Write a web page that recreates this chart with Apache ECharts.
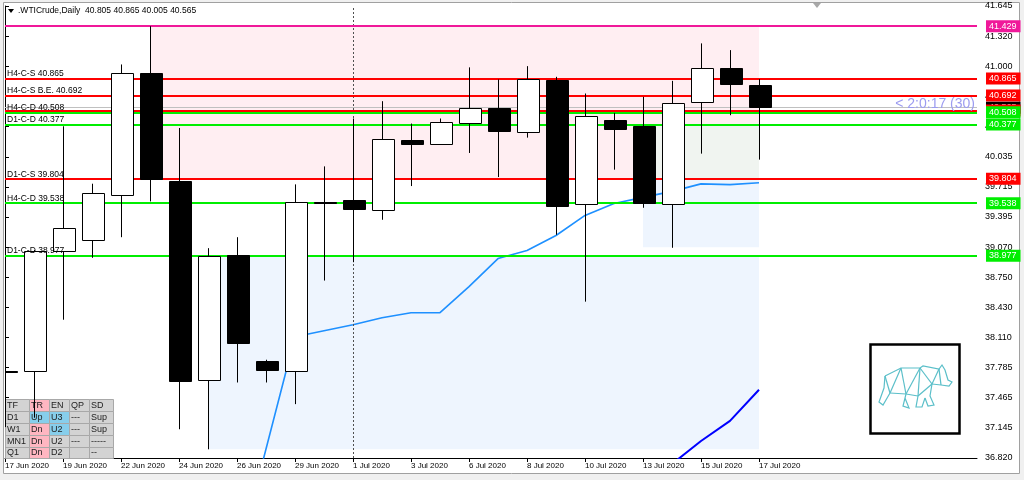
<!DOCTYPE html>
<html><head><meta charset="utf-8">
<script src="https://cdn.jsdelivr.net/npm/echarts@6/dist/echarts.min.js"></script>
<style>html,body{margin:0;padding:0;background:#f0f0f0}#c{width:1024px;height:480px}</style>
</head><body><div id="c"></div>
<script>
// ---------- DATA ----------
const dates = ['17 Jun 2020','18 Jun 2020','19 Jun 2020','21 Jun 2020','22 Jun 2020','23 Jun 2020','24 Jun 2020','25 Jun 2020','26 Jun 2020','28 Jun 2020','29 Jun 2020','30 Jun 2020','1 Jul 2020','2 Jul 2020','3 Jul 2020','5 Jul 2020','6 Jul 2020','7 Jul 2020','8 Jul 2020','9 Jul 2020','10 Jul 2020','12 Jul 2020','13 Jul 2020','14 Jul 2020','15 Jul 2020','16 Jul 2020','17 Jul 2020'];
const opens  = [37.750,37.744,39.035,39.142,39.631,40.925,39.773,37.655,38.989,37.858,37.744,39.553,39.570,39.463,40.211,40.176,40.397,40.561,40.297,40.853,39.527,40.425,40.369,39.534,40.621,40.985,40.805];
const highs  = [38.760,39.040,40.361,39.748,41.021,41.429,40.343,39.060,39.177,37.869,39.741,39.933,40.444,40.629,40.390,40.444,40.990,40.861,41.003,40.889,40.711,40.504,40.675,40.846,41.246,41.174,40.865];
const lows   = [37.150,37.250,38.296,38.957,39.177,39.559,37.127,36.913,37.626,37.626,37.395,38.714,38.910,39.363,39.723,40.170,40.076,39.819,40.240,39.203,38.489,39.898,39.491,39.064,40.069,40.479,40.005];
const closes = [37.740,39.035,39.270,39.648,40.931,39.797,37.644,38.978,38.043,37.762,39.551,39.548,39.473,40.222,40.172,40.407,40.551,40.308,40.861,39.509,40.471,40.329,39.541,40.611,40.978,40.811,40.565];
const maFast = [null,null,null,null,null,null,null,null,35.718,36.916,38.115,38.179,38.243,38.318,38.371,38.371,38.650,38.949,39.035,39.195,39.409,39.537,39.602,39.666,39.746,39.738,39.759];
const maSlow = [null,null,null,null,null,null,null,null,null,null,null,null,null,null,null,null,null,null,null,null,null,null,36.450,36.756,37.002,37.216,37.548];
const xLabelIdx = [0,2,4,6,8,10,12,14,16,18,20,22,24,26];
const yTicks = [41.645,41.320,41.000,40.680,40.360,40.035,39.715,39.395,39.070,38.750,38.430,38.110,37.785,37.465,37.145,36.820];
const levelValues = [41.429,40.865,40.692,40.532,40.508,40.377,39.804,39.538,38.977];
const levelNames  = ['','H4-C-S','H4-C-S B.E.','','H4-C-D','D1-C-D','D1-C-S','H4-C-D','D1-C-D'];
const pinkZone = [5,41.429,26,39.804];
const blueZoneLow = [7,38.977,26,36.913];
const blueZoneHigh = [22,40.377,26,39.070];
const separatorIdx = 12;
const symbolName = '.WTICrude,Daily';
const countdown = '< 2:0:17 (30)';
const tableHeader = ['TF','TR','EN','QP','SD'];
const tableRows = [['D1','Up','U3','---','Sup'],['W1','Dn','U2','---','Sup'],['MN1','Dn','U2','---','-----'],['Q1','Dn','D2','','--']];

// ---------- STYLES ----------
const FONT = "'Liberation Sans', Arial, sans-serif";
const levelColors = ['#F0189A','#FF0000','#FF0000','#FF0000','#00EE00','#00EE00','#FF0000','#00EE00','#00EE00'];
const cellFill = [['g','p','g','g','g'],['g','b','b','g','g'],['g','p','b','g','g'],['g','p','g','g','g'],['g','p','g','g','g']];
const fillMap = {g:'#D3D3D3', p:'#FFB6C1', b:'#87CEEB'};

const chart = echarts.init(document.getElementById('c'));
const lastIdx = closes.length - 1;
const bid = closes[lastIdx];

const candleData = opens.map((o,i)=>[i,o,highs[i],lows[i],closes[i]]);
function renderCandle(params, api){
  const i = api.value(0), o = api.value(1), h = api.value(2), l = api.value(3), c = api.value(4);
  const pO = api.coord([i,o]), pC = api.coord([i,c]), pH = api.coord([i,h]), pL = api.coord([i,l]);
  const bw = Math.round(api.size([1,0])[0]*0.76);
  const cx = Math.round(pO[0]) + 0.5;
  const top = Math.round(Math.min(pO[1],pC[1])) + 0.5;
  const bot = Math.round(Math.max(pO[1],pC[1])) + 0.5;
  return {type:'group', children:[
    {type:'line', shape:{x1:cx,y1:pH[1],x2:cx,y2:pL[1]}, style:{stroke:'#000',lineWidth:1}},
    {type:'rect', shape:{x:Math.round(cx-bw/2)+0.5, y:top, width:bw, height:Math.max(bot-top,1)},
      style:{fill: c>=o ? '#fff' : '#000', stroke:'#000', lineWidth:1}}
  ]};
}

function zoneArea(z, color){
  return [{coord:[z[0],z[1]], itemStyle:{color:color}},{coord:[z[2],z[3]]}];
}
const overlapZone = [Math.max(pinkZone[0],blueZoneHigh[0]), Math.min(pinkZone[1],blueZoneHigh[1]), Math.min(pinkZone[2],blueZoneHigh[2]), Math.max(pinkZone[3],blueZoneHigh[3])];

const levelLines = levelValues.map((v,i)=>({
  yAxis:v,
  lineStyle:{color:levelColors[i], width:2, type:'solid'},
  label:{show: !!levelNames[i], position:'insideStartTop', formatter: levelNames[i]+' '+v.toFixed(3),
    color:'#000', fontSize:8.5, fontFamily:FONT, distance:[2,0]}
}));
levelLines.push({yAxis:bid, lineStyle:{color:'#C0C0C0', width:1, type:'solid'}, label:{show:false}});

const tagItems = [];
levelValues.forEach((v,i)=>{
  tagItems.push({yAxis:v, bg:levelColors[i]});
  if (i === 2) tagItems.push({yAxis:bid, bg:'#000'});
});
const tagLines = tagItems.map(t=>({
  yAxis:t.yAxis, lineStyle:{color:'rgba(255,255,255,0)', width:1, opacity:1},
  label:{show:true, position:'end', formatter:t.yAxis.toFixed(3), backgroundColor:t.bg, color:'#fff',
    fontSize:9, fontFamily:FONT, padding:[1,4,1,3], lineHeight:10, distance:9, opacity:1}
}));

// graphic elements
const graphics = [];
graphics.push({type:'rect', z:-10, shape:{x:3.5,y:2.5,width:1016,height:471}, style:{fill:'#fff', stroke:'#A0A0A0', lineWidth:1}});
graphics.push({type:'polygon', z:10, shape:{points:[[8,9],[14,9],[11,13]]}, style:{fill:'#000'}});
graphics.push({type:'text', z:10, x:18, y:11, style:{text: symbolName+'  '+[opens[lastIdx],highs[lastIdx],lows[lastIdx],closes[lastIdx]].map(v=>v.toFixed(3)).join(' '),
  fontSize:8.5, fontFamily:FONT, fill:'#000', verticalAlign:'middle'}});
graphics.push({type:'polygon', z:10, shape:{points:[[813,3],[821,3],[817,8]]}, style:{fill:'#A8A8A8'}});
graphics.push({type:'text', z:10, x:975, y:104, style:{text:countdown, fontSize:14, fontFamily:FONT, fill:'#9C9CF0', align:'right', verticalAlign:'middle'}});

// table
const colX = [5,29,49,69,89,113];
const rowY = [399,411,423,435,447,458];
const allRows = [tableHeader].concat(tableRows);
allRows.forEach((row,r)=>{
  row.forEach((txt,c)=>{
    graphics.push({type:'rect', z:3, shape:{x:colX[c]+0.5,y:rowY[r]+0.5,width:colX[c+1]-colX[c],height:rowY[r+1]-rowY[r]},
      style:{fill:fillMap[cellFill[r][c]], stroke:'#A8A8A8', lineWidth:1}});
    graphics.push({type:'text', z:3, x:colX[c]+2, y:(rowY[r]+rowY[r+1])/2+0.5,
      style:{text:txt, fontSize:9, fontFamily:FONT, fill:'#222', verticalAlign:'middle'}});
  });
});

// bear logo
graphics.push({type:'rect', z:3, shape:{x:870.5,y:344.5,width:89,height:89}, style:{fill:'#fff', stroke:'#000', lineWidth:2.5}});
const bearColor = '#5BBFC9';
const bearLines = [
  [[885,376],[901,368],[920,368],[923,366],[939,369],[942,365],[945,370],[948,380],[952,382],[949,386],[941,385],[932,384]],
  [[932,384],[930,396],[934,405],[928,406],[925,398]],
  [[925,398],[922,407],[916,407],[918,396]],
  [[918,396],[906,394],[890,393]],
  [[906,394],[903,406],[909,408],[905,398]],
  [[890,393],[883,405],[879,402],[884,388],[885,376]],
  [[885,376],[890,393]],[[901,368],[890,393]],[[901,368],[906,394]],[[920,368],[906,394]],
  [[920,368],[932,384]],[[939,369],[932,384]],[[939,369],[941,385]],[[932,384],[918,396]],[[920,368],[918,396]]
];
bearLines.forEach(pts=>graphics.push({type:'polyline', z:4, shape:{points:pts}, style:{stroke:bearColor, lineWidth:1.2, fill:null}}));

const option = {
  animation:false,
  backgroundColor:'#F0F0F0',
  grid:{left:5, right:47, top:6, bottom:22},
  xAxis:{type:'value', min:0, max:(972/29),
    axisLine:{show:true, onZero:false, lineStyle:{color:'#000', width:1}},
    splitLine:{show:false},
    axisTick:{show:true, customValues:xLabelIdx, length:4, lineStyle:{color:'#000'}},
    axisLabel:{customValues:xLabelIdx, formatter:v=>dates[Math.round(v)], align:'left', fontSize:8, fontFamily:FONT, color:'#000', margin:4}
  },
  yAxis:{type:'value', position:'right', min:36.82, max:41.645,
    axisLine:{show:true, lineStyle:{color:'#000', width:1}},
    splitLine:{show:false},
    axisTick:{show:true, customValues:yTicks, length:4, lineStyle:{color:'#000'}},
    axisLabel:{customValues:yTicks, formatter:v=>v.toFixed(3), fontSize:9, fontFamily:FONT, color:'#000', margin:8}
  },
  graphic:graphics,
  series:[
    {type:'line', z:1, data:[], silent:true,
      markArea:{silent:true, data:[
        zoneArea(pinkZone,'#FFEEF2'),
        zoneArea(blueZoneLow,'#EEF5FE'),
        zoneArea(blueZoneHigh,'#EEF5FE'),
        zoneArea(overlapZone,'#F0F4F0')
      ]},
      markLine:{silent:true, symbol:'none', data:[{xAxis:separatorIdx, lineStyle:{color:'#505050', width:1, type:[2,2]}, label:{show:false}}]}
    },
    {type:'line', z:2, data:[], silent:true, markLine:{silent:true, symbol:'none', data:levelLines}},
    {type:'line', z:3, silent:true, showSymbol:false, clip:true,
      data:maFast.map((v,i)=>v==null?null:[i,v]).filter(Boolean),
      lineStyle:{color:'#1E90FF', width:1.6}},
    {type:'line', z:3, silent:true, showSymbol:false, clip:true,
      data:maSlow.map((v,i)=>v==null?null:[i,v]).filter(Boolean),
      lineStyle:{color:'#0000FF', width:2}},
    {type:'custom', z:5, clip:true, silent:true, renderItem:renderCandle, encode:{x:0, y:[1,2,3,4]}, data:candleData},
    {type:'line', z:8, data:[], silent:true, markLine:{silent:true, symbol:'none', data:tagLines}}
  ]
};
chart.setOption(option);
</script>
</body></html>
